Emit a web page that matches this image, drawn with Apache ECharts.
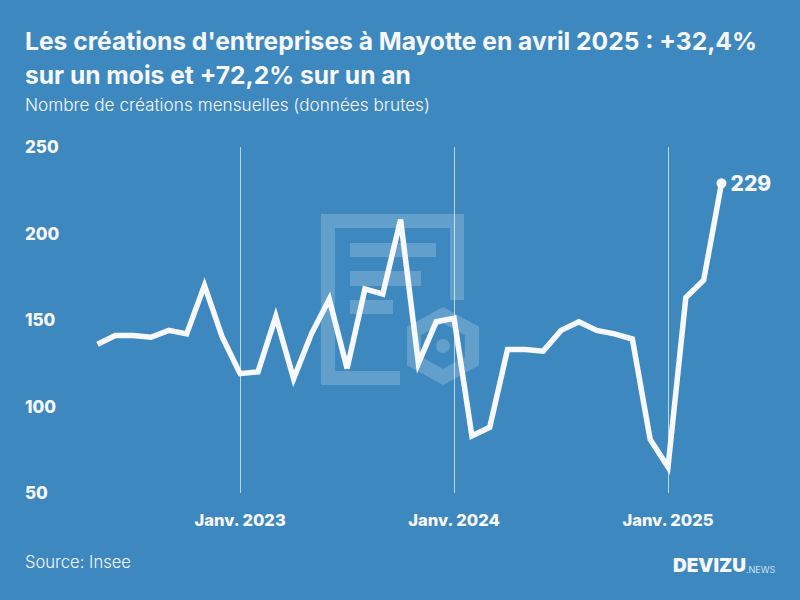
<!DOCTYPE html>
<html>
<head>
<meta charset="utf-8">
<style>
  html, body { margin: 0; padding: 0; background: #3d88bf; }
  #chart { width: 800px; height: 600px; }
</style>
<script src="https://cdn.jsdelivr.net/npm/echarts@6/dist/echarts.min.js"></script>
</head>
<body>
<div id="chart"></div>
<script>
var months = [
  '2022-05', '2022-06', '2022-07', '2022-08', '2022-09', '2022-10', '2022-11', '2022-12',
  '2023-01', '2023-02', '2023-03', '2023-04', '2023-05', '2023-06', '2023-07', '2023-08',
  '2023-09', '2023-10', '2023-11', '2023-12', '2024-01', '2024-02', '2024-03', '2024-04',
  '2024-05', '2024-06', '2024-07', '2024-08', '2024-09', '2024-10', '2024-11', '2024-12',
  '2025-01', '2025-02', '2025-03', '2025-04'
];
var creations = [
  136, 141, 141, 140, 144, 142, 170, 140,
  119, 120, 152, 116, 142, 162, 122, 168,
  165, 208, 125, 149, 151, 83, 88, 133,
  133, 132, 144, 149, 144, 142, 139, 81,
  65, 163, 173, 229
];
var janLabels = { '2023-01': 'Janv. 2023', '2024-01': 'Janv. 2024', '2025-01': 'Janv. 2025' };
var yTicks = [50, 100, 150, 200, 250];

var FONT = 'Inter';
var WHITE = '#f8f9ff';
var WATERMARK = 'rgba(255,255,255,0.2)';

function isJanuary(index) {
  return janLabels[months[index]] !== undefined;
}

// Background logo, drawn behind the line
function watermarkBar(x, y, width, height) {
  return { type: 'rect', z: -1, shape: { x: x, y: y, width: width, height: height }, style: { fill: WATERMARK } };
}
var watermark = [
  watermarkBar(321, 214, 143, 14),
  watermarkBar(321, 228, 14, 157),
  watermarkBar(450, 228, 14, 72),
  watermarkBar(335, 371, 65, 14),
  watermarkBar(350, 243, 86, 14),
  watermarkBar(350, 271, 71, 15),
  watermarkBar(350, 300, 43, 14),
  {
    type: 'polygon', z: -1,
    shape: { points: [[443, 315], [472, 331], [472, 361], [443, 377], [414, 361], [414, 331]] },
    style: { fill: 'none', stroke: WATERMARK, lineWidth: 14 }
  },
  { type: 'circle', z: -1, shape: { cx: 443, cy: 346, r: 7 }, style: { fill: WATERMARK } }
];

var chart = echarts.init(document.getElementById('chart'), null, { renderer: 'svg', width: 800, height: 600 });

chart.setOption({
  animation: false,
  backgroundColor: '#3d88bf',
  title: {
    text: "Les créations d'entreprises à Mayotte en avril 2025 : +32,4%\nsur un mois et +72,2% sur un an",
    subtext: 'Nombre de créations mensuelles (données brutes)',
    left: 20,
    top: 19,
    itemGap: 4,
    textStyle: { fontFamily: FONT, fontSize: 24.6, fontWeight: 'bold', color: WHITE, lineHeight: 34 },
    subtextStyle: { fontFamily: FONT, fontSize: 17.2, fontWeight: 300, color: WHITE }
  },
  grid: { left: 97.5, right: 78.5, top: 147, bottom: 107 },
  xAxis: {
    type: 'category',
    data: months,
    boundaryGap: false,
    axisLine: { show: false },
    axisTick: { show: false },
    axisLabel: {
      interval: function (index) { return isJanuary(index); },
      formatter: function (value) { return janLabels[value] || ''; },
      margin: 18,
      fontFamily: FONT,
      fontSize: 16.5,
      fontWeight: 800,
      color: WHITE
    },
    splitLine: {
      show: true,
      interval: function (index) { return isJanuary(index); },
      lineStyle: { color: 'rgba(255,255,255,0.65)', width: 1 }
    }
  },
  yAxis: {
    type: 'value',
    min: yTicks[0],
    max: yTicks[yTicks.length - 1],
    interval: 50,
    axisLine: { show: false },
    axisTick: { show: false },
    splitLine: { show: false },
    axisLabel: {
      align: 'left',
      margin: 72.5,
      verticalAlign: 'middle',
      padding: [2, 0, 0, 0],
      fontFamily: FONT,
      fontSize: 17,
      fontWeight: 800,
      color: WHITE
    }
  },
  series: [{
    type: 'line',
    data: creations,
    showAllSymbol: true,
    symbol: 'circle',
    symbolSize: function (value, params) {
      return params.dataIndex === creations.length - 1 ? 10 : 0;
    },
    itemStyle: { color: WHITE },
    lineStyle: { color: WHITE, width: 5.5, join: 'miter', cap: 'butt' },
    endLabel: {
      show: true,
      distance: 9,
      fontFamily: FONT,
      fontSize: 21,
      fontWeight: 800,
      color: WHITE,
      formatter: function (params) { return String(params.value); }
    }
  }],
  graphic: watermark.concat([
    {
      type: 'text', left: 25, top: 553,
      style: { text: 'Source: Insee', fontFamily: FONT, fontSize: 16.6, fontWeight: 300, fill: WHITE }
    },
    {
      type: 'text', left: 673, top: 556,
      style: { text: 'DEVIZU', fontFamily: FONT, fontSize: 19, fontWeight: 900, fill: WHITE }
    },
    {
      type: 'text', left: 746, top: 565,
      style: { text: '.NEWS', fontFamily: FONT, fontSize: 9, fontWeight: 300, fill: WHITE }
    }
  ])
});
</script>
</body>
</html>
